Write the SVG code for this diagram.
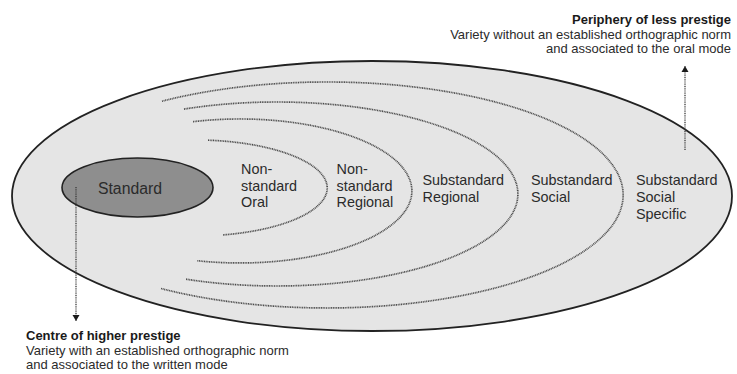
<svg xmlns="http://www.w3.org/2000/svg" width="737" height="374" viewBox="0 0 737 374">
<style>
.lbl{font-family:"Liberation Sans",Arial,Helvetica,sans-serif;font-size:14.4px;fill:#2b2b2b}
.std{font-family:"Liberation Sans",Arial,Helvetica,sans-serif;font-size:15.8px;fill:#2b2b2b}
.note{font-family:"Liberation Sans",Arial,Helvetica,sans-serif;font-size:13px;fill:#2b2b2b}
.bold{font-weight:bold;fill:#1a1a1a}
.arc{fill:none;stroke:#4a4a4a;stroke-width:1.7;stroke-dasharray:1 0.7}
.arrow{stroke:#3a3a3a;stroke-width:1.3;stroke-dasharray:1 0.8;marker-end:url(#head)}
</style>
<defs>
<marker id="head" markerUnits="userSpaceOnUse" markerWidth="8" markerHeight="8" refX="6" refY="4" orient="auto">
<path d="M0,0.5 L6,4 L0,7.5 z" fill="#1a1a1a"/>
</marker>
</defs>
<rect width="737" height="374" fill="#fff"/>
<g id="outer">
<ellipse cx="372" cy="196" rx="360" ry="135" fill="#e5e5e5" stroke="#222" stroke-width="1.8"/>
</g>
<g id="connectors">
<path class="arc" d="M208,140.2 A132,48 0 0 1 223,234.9"/>
<path class="arc" d="M193,121.7 A172,72 0 1 1 197,260.7"/>
<path class="arc" d="M184,109.1 A241,92 0 1 1 186,279.2"/>
<path class="arc" d="M162,101.2 A296,113 0 1 1 161,288.5"/>
</g>
<g id="standard">
<ellipse cx="137.5" cy="187.5" rx="75.5" ry="29.5" fill="#8e8e8e" stroke="#222" stroke-width="1.6"/>
<text class="std" x="130" y="194" text-anchor="middle">Standard</text>
</g>
<g id="arrows">
<line class="arrow" x1="76" y1="187" x2="76" y2="321"/>
<line class="arrow" x1="685" y1="150" x2="685" y2="66"/>
</g>
<g id="nonstandard-oral">
<text class="lbl" x="241" y="174">Non-</text>
<text class="lbl" x="241" y="190.7">standard</text>
<text class="lbl" x="241" y="207.4">Oral</text>
</g>
<g id="nonstandard-regional">
<text class="lbl" x="336.5" y="174">Non-</text>
<text class="lbl" x="336.5" y="190.7">standard</text>
<text class="lbl" x="336.5" y="207.4">Regional</text>
</g>
<g id="substandard-regional">
<text class="lbl" x="422.5" y="185">Substandard</text>
<text class="lbl" x="422.5" y="201.8">Regional</text>
</g>
<g id="substandard-social">
<text class="lbl" x="531" y="185">Substandard</text>
<text class="lbl" x="531" y="201.8">Social</text>
</g>
<g id="substandard-social-specific">
<text class="lbl" x="636" y="185">Substandard</text>
<text class="lbl" x="636" y="201.8">Social</text>
<text class="lbl" x="636" y="218.6">Specific</text>
</g>
<g id="periphery">
<text class="note bold" x="731" y="24" text-anchor="end">Periphery of less prestige</text>
<text class="note" x="731" y="38.5" text-anchor="end">Variety without an established orthographic norm</text>
<text class="note" x="731" y="53" text-anchor="end">and associated to the oral mode</text>
</g>
<g id="centre">
<text class="note bold" x="26" y="340">Centre of higher prestige</text>
<text class="note" x="26" y="354.5">Variety with an established orthographic norm</text>
<text class="note" x="26" y="369">and associated to the written mode</text>
</g>
</svg>
